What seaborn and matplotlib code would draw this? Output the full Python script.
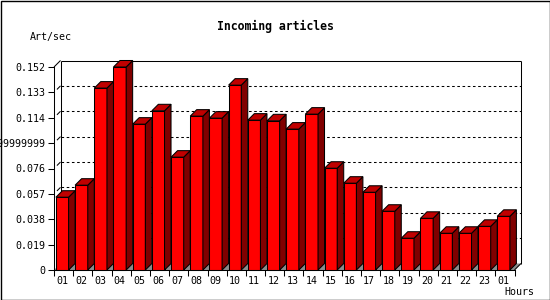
import numpy as np
import pandas as pd
import matplotlib
matplotlib.use("Agg")
import matplotlib.pyplot as plt
import seaborn as sns
from matplotlib.patches import Polygon, Rectangle

# ---- data ----
hours = ["01", "02", "03", "04", "05", "06", "07", "08", "09", "10", "11", "12",
         "13", "14", "15", "16", "17", "18", "19", "20", "21", "22", "23", "01"]
rates = [0.0545, 0.0635, 0.1362, 0.1520, 0.1092, 0.1192, 0.0845, 0.1152,
         0.1137, 0.1384, 0.1122, 0.1117, 0.1055, 0.1167, 0.0762, 0.0650,
         0.0582, 0.0440, 0.0238, 0.0387, 0.0275, 0.0275, 0.0327, 0.0402]
ytick_values = [0, 0.019, 0.038, 0.057, 0.076, 0.095, 0.114, 0.133, 0.152]
ytick_labels = ["0", "0.019", "0.038", "0.057", "0.076", "0.09499999999999999",
                "0.114", "0.133", "0.152"]
title = "Incoming articles"
ylabel = "Art/sec"
xlabel = "Hours"

sns.set_style("white")
plt.rcParams['font.family'] = ['DejaVu Sans Mono']

W, H = 550, 300
fig = plt.figure(figsize=(W / 100, H / 100), dpi=100)
fig.patch.set_facecolor("white")
ax = fig.add_axes([54 / W, 30 / H, 460.5 / W, 203 / H])
ax.set_facecolor("none")

df = pd.DataFrame({"slot": range(len(rates)), "rate": rates})
sns.barplot(data=df, x="slot", y="rate", color="#ff0000", saturation=1,
            width=0.66, edgecolor="black", linewidth=0.75, errorbar=None,
            ax=ax, zorder=3)
bars = list(ax.patches)

x0, x1 = -0.43, len(rates) - 0.43
y0, y1 = 0, ytick_values[-1]
ax.set_xlim(x0, x1)
ax.set_ylim(y0, y1)
ax.set_xlabel("")
ax.set_ylabel("")

# depth offset in data units
p0 = ax.transData.transform((0, 0))
p1 = ax.transData.transform((1, 1))
dx = 6.5 / (p1[0] - p0[0])
dy = 6.5 / (p1[1] - p0[1])

lk = dict(color="black", lw=0.75, clip_on=False, solid_capstyle="butt")

# floor
ax.add_patch(Polygon([(x0, 0), (x0 + dx, dy), (x1 + dx, dy), (x1, 0)],
                     closed=True, fc="#8c8c8c", ec="none", zorder=2, clip_on=False))

# back wall grid lines
for v in ytick_values[1:-1]:
    ax.plot([x0 + dx, x1 + dx], [v + dy, v + dy], ls=(0, (2.5, 2.5)),
            color="black", lw=0.75, zorder=1, clip_on=False)

# back wall frame
ax.plot([x0 + dx, x1 + dx], [y1 + dy, y1 + dy], zorder=1, **lk)
ax.plot([x0 + dx, x0 + dx], [dy, y1 + dy], zorder=1, **lk)
ax.plot([x1 + dx, x1 + dx], [dy, y1 + dy], zorder=1, **lk)
ax.plot([x0, x0 + dx], [y1, y1 + dy], zorder=1, **lk)
ax.plot([x1, x1 + dx], [0, dy], zorder=2.6, **lk)
# left wall tick marks
for v in ytick_values[1:-1]:
    ax.plot([x0 + 0.45 * dx, x0 + dx], [v + 0.45 * dy, v + dy], zorder=1, **lk)

# 3D faces on each bar
for p in bars:
    p.set_clip_on(False)
    xl = p.get_x()
    xr = xl + p.get_width()
    h = p.get_height()
    side = Polygon([(xr, 0), (xr + dx, dy), (xr + dx, h + dy), (xr, h)], closed=True,
                   fc="#800000", ec="black", lw=0.75, zorder=3, clip_on=False)
    top = Polygon([(xl, h), (xl + dx, h + dy), (xr + dx, h + dy), (xr, h)], closed=True,
                  fc="#c00000", ec="black", lw=0.75, zorder=3, clip_on=False)
    ax.add_patch(side)
    ax.add_patch(top)

# spines
for s in ["top", "right"]:
    ax.spines[s].set_visible(False)
for s in ["left", "bottom"]:
    ax.spines[s].set_color("black")
    ax.spines[s].set_linewidth(0.75)
    ax.spines[s].set_zorder(4)

# ticks
ax.set_yticks(ytick_values, ytick_labels)
ax.tick_params(axis="y", length=4, width=0.75, pad=2.5, labelsize=7.2,
               direction="out", color="black", labelcolor="black", left=True)
ax.set_xticks(np.arange(len(rates) + 1) + x0)
ax.set_xticks(np.arange(len(rates)), hours, minor=True)
ax.tick_params(axis="x", which="major", length=4, width=0.75, direction="out",
               labelbottom=False, color="black", bottom=True)
ax.tick_params(axis="x", which="minor", length=0, pad=4.5, labelsize=7.2,
               labelcolor="black", bottom=True)
ax.grid(False)

# texts
fig.text(275 / W, 1 - 26.7 / H, title, ha="center", va="center",
         fontsize=8.3, fontweight="bold", color="black")
fig.text(30 / W, 1 - 36.7 / H, ylabel, ha="left", va="center", fontsize=7.2, color="black")
fig.text(534 / W, 1 - 291.7 / H, xlabel, ha="right", va="center", fontsize=7.2, color="black")

# outer border
fig.add_artist(Rectangle((0.5 / W, 0.5 / H), (W - 1) / W, (H - 1) / H,
                         transform=fig.transFigure, fill=False, ec="black", lw=1.0))

fig.savefig("out.png", dpi=100)
